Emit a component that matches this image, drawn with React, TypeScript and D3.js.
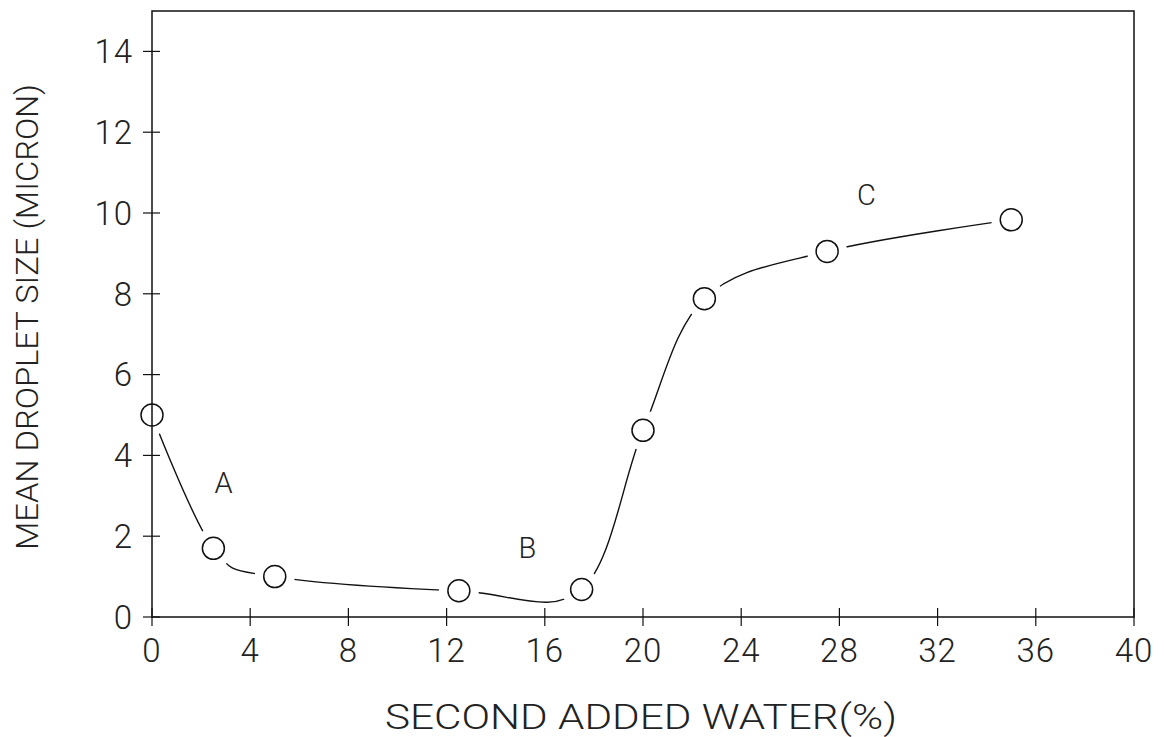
import React from "react";
import * as d3 from "d3";

// second added water (%) vs mean droplet size (micron)
const waterPct = [0, 2.5, 5, 12.5, 17.5, 20, 22.5, 27.5, 35];
const dropletSize = [5.0, 1.7, 1.0, 0.65, 0.68, 4.62, 7.88, 9.05, 9.83];

const xTicks = [0, 4, 8, 12, 16, 20, 24, 28, 32, 36, 40];
const yTicks = [0, 2, 4, 6, 8, 10, 12, 14];

// region labels, in data units
const regionNames = ["A", "B", "C"];
const regionX = [2.92, 15.29, 29.1];
const regionY = [3.34, 1.73, 10.45];

const W = 1167;
const H = 737;
const left = 152;
const right = 1134;
const top = 11;
const bottom = 617;

const font = "Roboto, 'Liberation Sans', sans-serif";

export default function App() {
  const x = d3.scaleLinear().domain([0, 40]).range([left, right]);
  const y = d3.scaleLinear().domain([0, 15]).range([bottom, top]);

  const pts: [number, number][] = waterPct.map((w, i) => [w, dropletSize[i]]);
  const line = d3
    .line<[number, number]>()
    .x((d) => x(d[0]))
    .y((d) => y(d[1]))
    .curve(d3.curveCatmullRom.alpha(0));

  return (
    <svg
      width={W}
      height={H}
      style={{ position: "absolute", left: 0, top: 0, background: "#fff" }}
    >
      <rect x={0} y={0} width={W} height={H} fill="#fff" />

      {/* smooth curve, broken around each marker */}
      <path d={line(pts) || ""} fill="none" stroke="#111" strokeWidth={1.4} />
      {pts.map((p, i) => (
        <circle key={"m" + i} cx={x(p[0])} cy={y(p[1])} r={20} fill="#fff" />
      ))}
      {pts.map((p, i) => (
        <circle
          key={"c" + i}
          cx={x(p[0])}
          cy={y(p[1])}
          r={11}
          fill="#fff"
          stroke="#111"
          strokeWidth={1.5}
        />
      ))}

      {/* frame */}
      <rect
        x={left}
        y={top}
        width={right - left}
        height={bottom - top}
        fill="none"
        stroke="#111"
        strokeWidth={1.5}
      />

      {/* y ticks */}
      {yTicks.map((t) => (
        <g key={"y" + t}>
          <line x1={left - 9} x2={left + 8} y1={y(t)} y2={y(t)} stroke="#111" strokeWidth={1.2} />
          <text
            x={left - 19}
            y={y(t)}
            dy="0.36em"
            textAnchor="end"
            fontFamily={font}
            fontWeight={300}
            fontSize={33}
            fill="#222"
            letterSpacing={1}
          >
            {t}
          </text>
        </g>
      ))}

      {/* x ticks */}
      {xTicks.map((t) => (
        <g key={"x" + t}>
          <line x1={x(t)} x2={x(t)} y1={bottom - 9} y2={bottom + 9} stroke="#111" strokeWidth={1.2} />
          <text
            x={x(t)}
            y={662}
            textAnchor="middle"
            fontFamily={font}
            fontWeight={300}
            fontSize={33}
            fill="#222"
            letterSpacing={1}
          >
            {t}
          </text>
        </g>
      ))}

      {/* region labels */}
      {regionNames.map((n, i) => (
        <text
          key={n}
          x={x(regionX[i])}
          y={y(regionY[i])}
          dy="0.36em"
          textAnchor="middle"
          fontFamily={font}
          fontWeight={300}
          fontSize={29}
          fill="#222"
        >
          {n}
        </text>
      ))}

      {/* axis titles */}
      <text
        x={385}
        y={729}
        textLength={512}
        lengthAdjust="spacingAndGlyphs"
        fontFamily={font}
        fontWeight={300}
        fontSize={35}
        fill="#222"
      >
        SECOND ADDED WATER(%)
      </text>
      <text
        transform={`translate(38, 550) rotate(-90)`}
        x={0}
        y={0}
        textLength={466}
        lengthAdjust="spacingAndGlyphs"
        fontFamily={font}
        fontWeight={300}
        fontSize={32}
        fill="#222"
      >
        MEAN DROPLET SIZE (MICRON)
      </text>
    </svg>
  );
}
